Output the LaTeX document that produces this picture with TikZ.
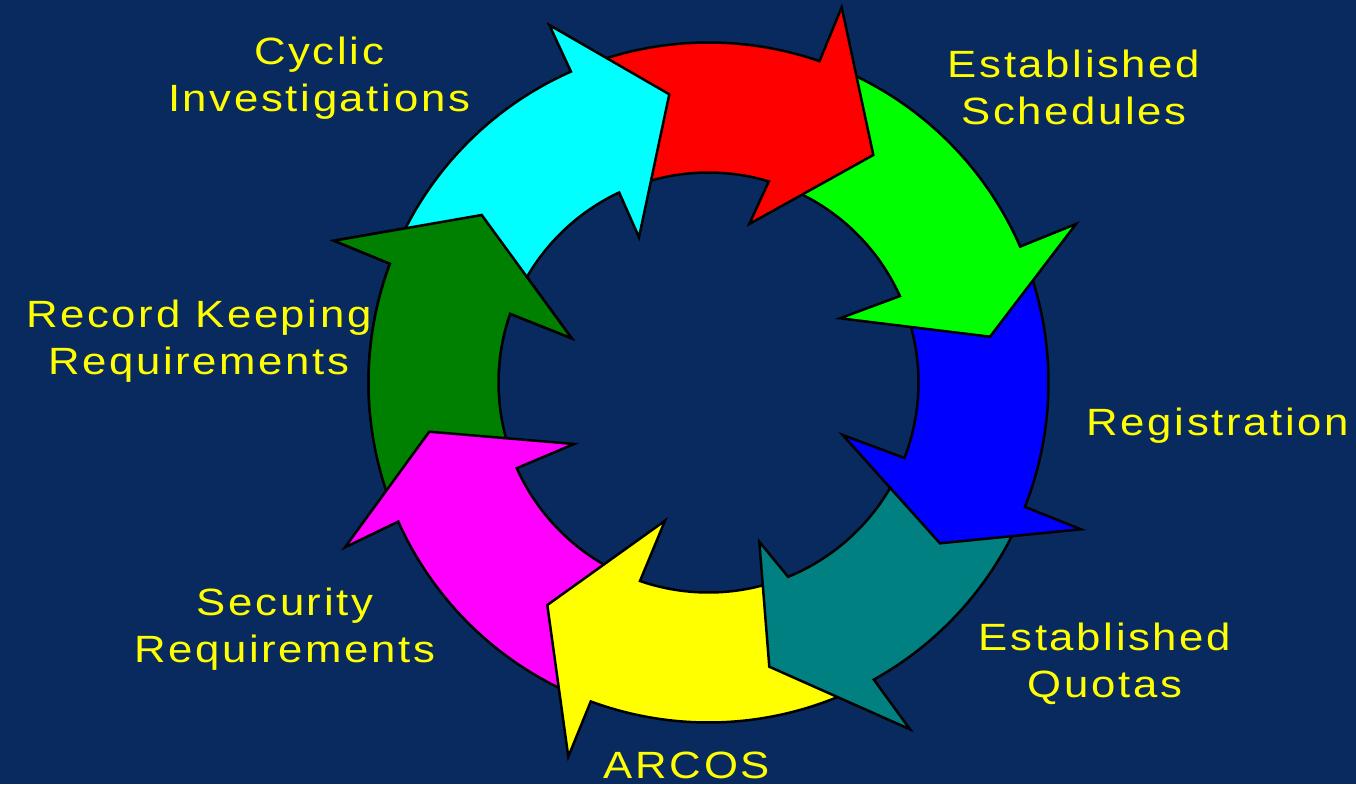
\documentclass[tikz,border=0pt]{standalone}
\usepackage{fontspec}
\usetikzlibrary{calc}
\newfontfamily\labelfont{Liberation Sans}[LetterSpace=7, FakeStretch=1.15]
\definecolor{slidebg}{RGB}{9,42,94}
\definecolor{ringcyan}{RGB}{0,255,255}
\definecolor{ringred}{RGB}{255,0,0}
\definecolor{ringgreen}{RGB}{0,255,0}
\definecolor{ringblue}{RGB}{0,0,255}
\definecolor{ringteal}{RGB}{0,128,128}
\definecolor{ringyellow}{RGB}{255,255,0}
\definecolor{ringmagenta}{RGB}{255,0,255}
\definecolor{ringdkgreen}{RGB}{0,128,0}
\tikzset{
  ringarrow/.style={draw=black, line width=2.5pt, line join=miter, miter limit=12},
  caption/.style={text=ringyellow, font=\labelfont\fontsize{38}{47}\selectfont,
    align=center, inner sep=0pt, anchor=base}
}
\begin{document}
\begin{tikzpicture}[x=1pt, y=-1pt]
      \fill[slidebg] (0,0) rectangle (1356,784);
      \useasboundingbox (0,0) rectangle (1356,784);
      \coordinate (c) at (708.5,382.5);
      % arrows, each drawn below the one before it
      \draw[ringarrow, fill=ringdkgreen] ($(c)+(158.85:340)$) arc[start angle=158.85, end angle=200.45, radius=340]
        -- (334,240.7) -- (481.7,215) -- (571.7,338.3)
        -- ($(c)+(199.1:210)$) arc[start angle=199.1, end angle=158.92, radius=210] -- cycle;
      \draw[ringarrow, fill=ringmagenta] ($(c)+(113.26:340)$) arc[start angle=113.26, end angle=155.85, radius=340]
        -- (345,547.3) -- (429.3,431.7) -- (574,444)
        -- ($(c)+(155.92:210)$) arc[start angle=155.92, end angle=112.04, radius=210] -- cycle;
      \draw[ringarrow, fill=ringyellow] ($(c)+(63.91:340)$) arc[start angle=63.91, end angle=110.26, radius=340]
        -- (568.3,756.7) -- (547.3,605) -- (665,520.7)
        -- ($(c)+(109.04:210)$) arc[start angle=109.04, end angle=70.72, radius=210] -- cycle;
      \draw[ringarrow, fill=ringteal] ($(c)+(24.46:340)$) arc[start angle=24.46, end angle=60.91, radius=340]
        -- (910,729.3) -- (769.3,666.7) -- (759.3,541.7)
        -- ($(c)+(67.72:210)$) arc[start angle=67.72, end angle=24.07, radius=210] -- cycle;
      \draw[ringarrow, fill=ringblue] ($(c)+(-20.56:340)$) arc[start angle=-20.56, end angle=21.46, radius=340]
        -- (1081,529.3) -- (940,543.3) -- (842.7,435)
        -- ($(c)+(21.07:210)$) arc[start angle=21.07, end angle=-21.3, radius=210] -- cycle;
      \draw[ringarrow, fill=ringgreen] ($(c)+(-67.94:340)$) arc[start angle=-67.94, end angle=-23.56, radius=340]
        -- (1076,224) -- (990,336.7) -- (840,318.3)
        -- ($(c)+(-24.3:210)$) arc[start angle=-24.3, end angle=-70.31, radius=210] -- cycle;
      \draw[ringarrow, fill=ringred] ($(c)+(-110.87:340)$) arc[start angle=-110.87, end angle=-70.94, radius=340]
        -- (841.7,7.3) -- (873.3,155) -- (749.3,224)
        -- ($(c)+(-73.31:210)$) arc[start angle=-73.31, end angle=-112.18, radius=210] -- cycle;
      \draw[ringarrow, fill=ringcyan] ($(c)+(203.45:340)$) arc[start angle=203.45, end angle=246.13, radius=340]
        -- (549.3,25) -- (669.3,94.3) -- (639,237.3)
        -- ($(c)+(244.82:210)$) arc[start angle=244.82, end angle=202.1, radius=210] -- cycle;
      % dark green head again, on top of the cyan tail
      \begin{scope}
        \clip (c) -- ++(175:600) arc[start angle=175, end angle=240, radius=600] -- cycle;
        \draw[ringarrow, fill=ringdkgreen] ($(c)+(158.85:340)$) arc[start angle=158.85, end angle=200.45, radius=340]
          -- (334,240.7) -- (481.7,215) -- (571.7,338.3)
          -- ($(c)+(199.1:210)$) arc[start angle=199.1, end angle=158.92, radius=210] -- cycle;
      \end{scope}
      % labels (base = last line)
      \node[caption] (cyclic) at (319,111) {Cyclic\\Investigations};
      \node[caption] (schedules) at (1074,124) {Established\\Schedules};
      \node[caption] (registration) at (1218,435) {Registration};
      \node[caption] (quotas) at (1105,697) {Established\\Quotas};
      \node[caption] (arcos) at (687,778) {ARCOS};
      \node[caption] (security) at (285,662) {Security\\Requirements};
      \node[caption] (records) at (199,374) {Record Keeping\\Requirements};
    \end{tikzpicture}
\end{document}
